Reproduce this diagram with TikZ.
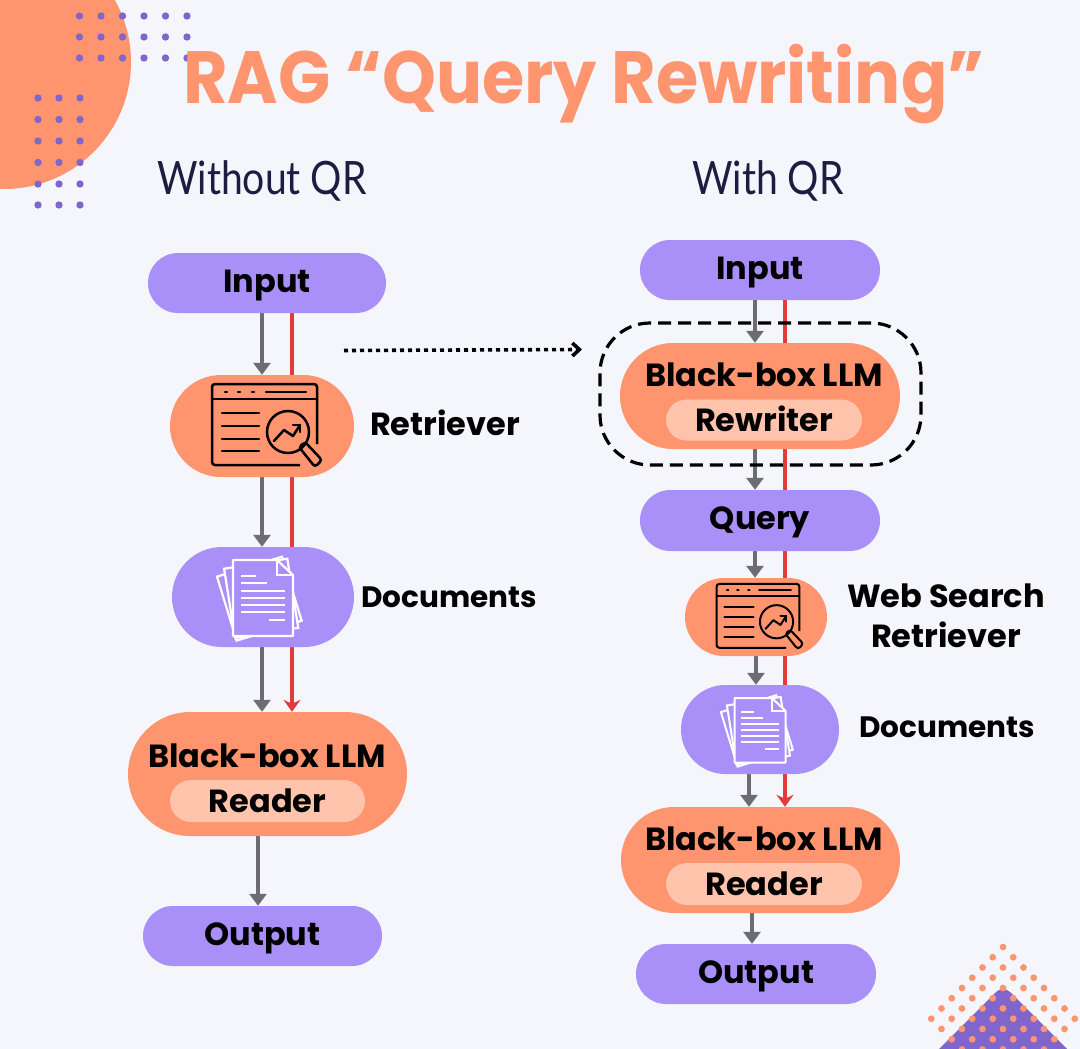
\documentclass[tikz,border=0pt]{standalone}
\usepackage{fontspec}
\setmainfont{Poppins}
\newfontfamily\headfont[FakeStretch=0.925]{Poppins}
\newfontfamily\subfont[FakeStretch=0.85]{Lato}
\usetikzlibrary{arrows.meta, positioning, calc, backgrounds, shapes.misc}

\definecolor{pagecol}{HTML}{F4F6FC}
\definecolor{peach}{HTML}{FF956F}
\definecolor{peachlt}{HTML}{FFC4AB}
\definecolor{lilac}{HTML}{A98FF8}
\definecolor{dotcol}{HTML}{8066CC}
\definecolor{grayline}{HTML}{6C6C72}
\definecolor{redline}{HTML}{E03C3C}
\definecolor{inkcol}{HTML}{1B1E40}

\tikzset{
	pill/.style={rounded rectangle,fill=#1,inner sep=0pt},
	boxtext/.style={font=\bfseries\fontsize{32}{32}\selectfont,text=black,inner sep=0pt,text height=22pt,text depth=0pt},
	pilltext/.style={boxtext,text height=18pt},
	sidetext/.style={font=\bfseries\fontsize{32}{40}\selectfont,text=black,inner sep=0pt,align=center},
	doctext/.style={font=\bfseries\fontsize{29.5}{38}\selectfont,text=black,inner sep=0pt},
	flow/.style={grayline,line width=4pt,-{Triangle[length=12pt,width=17pt]}},
	redflow/.style={redline,line width=3.5pt,-{Stealth[length=12pt,width=17pt,inset=4pt]}},
	winicon/.pic={
		\draw[rounded corners=3pt] (38,39) -- (-50,39) -- (-50,-42) -- (55,-42) -- (55,18);
		\draw (-50,-27) -- (55,-27);
		\draw[line cap=round] (-37,-34) -- (-35,-34) (-24,-34) -- (-22,-34) (-10,-34) -- (-8,-34) (4,-34) -- (44,-34);
		\draw[line cap=round] (-40,-13) -- (-3,-13) (-40,0) -- (-3,0) (-40,13) -- (-3,13) (-40,25) -- (-3,25);
		\draw (26,6) circle (21);
		\draw[line cap=round,line join=round] (12,15) -- (22,4) -- (31,10) -- (38,-1);
		\draw[line cap=round] (31,-1) -- (38,-1) -- (38,6);
		\draw[rounded corners=3pt] (37,21) -- (43,16) -- (60,34) -- (53,41) -- cycle;
	},
	docicon/.pic={
		\draw[fill=lilac,rotate=17] (-38,-33) rectangle (30,34);
		\draw[fill=lilac,rotate=9] (-34,-34) rectangle (30,36);
		\draw[fill=lilac,line join=round] (-30,-37) -- (14,-37) -- (30,-22) -- (30,39) -- (-30,39) -- cycle;
		\draw (14,-37) -- (14,-22) -- (30,-22);
		\draw (-22,-21) -- (-7,-21) (-22,-14) -- (4,-14) (-22,-6) -- (22,-6) (-22,1) -- (22,1) (-22,8) -- (22,8) (-22,15) -- (22,15) (6,23) -- (22,23);
	},
}

\begin{document}
\begin{tikzpicture}[x=1pt,y=-1pt]
	\useasboundingbox (0,0) rectangle (1080,1049);
	\begin{scope}[on background layer]
		\fill[pagecol] (0,0) rectangle (1080,1049);
		\clip (0,0) rectangle (1080,1049);
		\fill[peach] (4,62) circle (127);
		\foreach \x in {79.5,101,122.5,144,165.5,187} {
			\foreach \y in {16,37,58} {
				\fill[dotcol] (\x,\y) circle (3.7);
			}
		}
		\foreach \x in {38,59,80} {
			\foreach \y in {98,119.5,141,162.5,184,205} {
				\fill[dotcol] (\x,\y) circle (3.7);
			}
		}
		\fill[dotcol,rounded corners=10pt] (1003,985) -- (1085,1067) -- (921,1067) -- cycle;
		\foreach \i in {0,...,7} {
			\foreach \j in {0,...,7} {
				\fill[peach] ({1003+(\i-\j)*10.25},{947+(\i+\j)*10.25}) circle (3.4);
			}
		}
	\end{scope}

	\node[font=\headfont\bfseries\fontsize{74}{74}\selectfont,text=peach,inner sep=0pt] (title) at (584,84) {RAG “Query Rewriting”};
	\node[font=\subfont\fontsize{46}{46}\selectfont,text=inkcol,inner sep=0pt] (subL) at (262,181) {Without QR};
	\node[font=\subfont\fontsize{46}{46}\selectfont,text=inkcol,inner sep=0pt] (subR) at (768,181) {With QR};

	% without QR
	\node[pill=lilac,minimum width=238pt,minimum height=60pt,pilltext] (inL) at (267,283) {Input};
	\node[pill=peach,minimum width=184pt,minimum height=102pt] (retL) at (262,426) {};
	\pic[line width=2.5pt] at (retL.center) {winicon};
	\node[sidetext] (retLtxt) at (445,423) {Retriever};
	\node[pill=lilac,minimum width=182pt,minimum height=100pt] (docL) at (263,597) {};
	\pic[draw=white,line width=2.2pt] at (docL.center) {docicon};
	\node[doctext] (docLtxt) at (449,597) {Documents};
	\node[pill=peach,minimum width=279pt,minimum height=124pt] (readL) at (267.5,774) {};
	\node[boxtext] (readLtop) at (267,756) {Black-box LLM};
	\node[pill=peachlt,minimum width=195pt,minimum height=42pt,boxtext] (readLin) at (267.5,801) {Reader};
	\node[pill=lilac,minimum width=239pt,minimum height=60pt,pilltext] (outL) at (262.5,936) {Output};

	% with QR
	\node[pill=lilac,minimum width=240pt,minimum height=60pt,pilltext] (inR) at (760,270) {Input};
	\node[pill=peach,minimum width=280pt,minimum height=106pt] (rewR) at (760,396) {};
	\node[boxtext] (rewRtop) at (764,375) {Black-box LLM};
	\node[pill=peachlt,minimum width=196pt,minimum height=41pt,boxtext] (rewRin) at (764,420) {Rewriter};
	\node[draw=black,line width=3.2pt,dash pattern=on 13pt off 7pt,rounded corners=50pt,minimum width=321pt,minimum height=142pt,inner sep=0pt] (rewbox) at (760.5,394) {};
	\node[pill=lilac,minimum width=240pt,minimum height=61pt,pilltext] (qryR) at (760,520.5) {Query};
	\node[pill=peach,minimum width=142pt,minimum height=78pt] (retR) at (756,617) {};
	\pic[line width=2pt,scale=0.79] at (retR.center) {winicon};
	\node[sidetext] (retRtxt) at (946,616) {Web Search\\Retriever};
	\node[pill=lilac,minimum width=158pt,minimum height=89pt] (docR) at (760,729.5) {};
	\pic[draw=white,line width=2pt,scale=0.85] at (docR.center) {docicon};
	\node[doctext] (docRtxt) at (947,727) {Documents};
	\node[pill=peach,minimum width=279pt,minimum height=106pt] (readR) at (760.5,860) {};
	\node[boxtext] (readRtop) at (764,839) {Black-box LLM};
	\node[pill=peachlt,minimum width=196pt,minimum height=42pt,boxtext] (readRin) at (764,884) {Reader};
	\node[pill=lilac,minimum width=240pt,minimum height=60pt,pilltext] (outR) at (756,974) {Output};

	\coordinate (dotA) at (344,350.5);
	\coordinate (dotB) at (582,349.5);
	\draw[black,line width=3.6pt,dash pattern=on 4pt off 4pt,-{Straight Barb[length=7pt,width=13pt]}] (dotA) -- (dotB);

	\begin{scope}[on background layer]
		\draw[flow] (inL.south -| retL) -- (retL.north);
		\draw[flow] (retL.south) -- (docL.north -| retL);
		\draw[flow] (docL.south -| retL) -- (readL.north -| retL);
		\draw[flow] ([xshift=-9.5pt]readL.south) -- ([xshift=-9.5pt]readL.south |- outL.north);
		\draw[redflow] ([xshift=25pt]inL.south) -- ([xshift=25pt]inL.south |- readL.north);

		\draw[flow] ([xshift=-5pt]inR.south) -- ([xshift=-5pt]inR.south |- rewR.north);
		\draw[flow] ([xshift=-5pt]rewR.south) -- ([xshift=-5pt]rewR.south |- qryR.north);
		\draw[flow] ([xshift=-5pt]qryR.south) -- ([xshift=-5pt]qryR.south |- retR.north);
		\draw[flow] (retR.south) -- (retR.south |- docR.north);
		\draw[flow] ([xshift=-11pt]docR.south) -- ([xshift=-11pt]docR.south |- readR.north);
		\draw[flow] ([xshift=-8.5pt]readR.south) -- ([xshift=-8.5pt]readR.south |- outR.north);
		\draw[redflow] ([xshift=25pt]inR.south) -- ([xshift=25pt]inR.south |- readR.north);
	\end{scope}
\end{tikzpicture}
\end{document}
